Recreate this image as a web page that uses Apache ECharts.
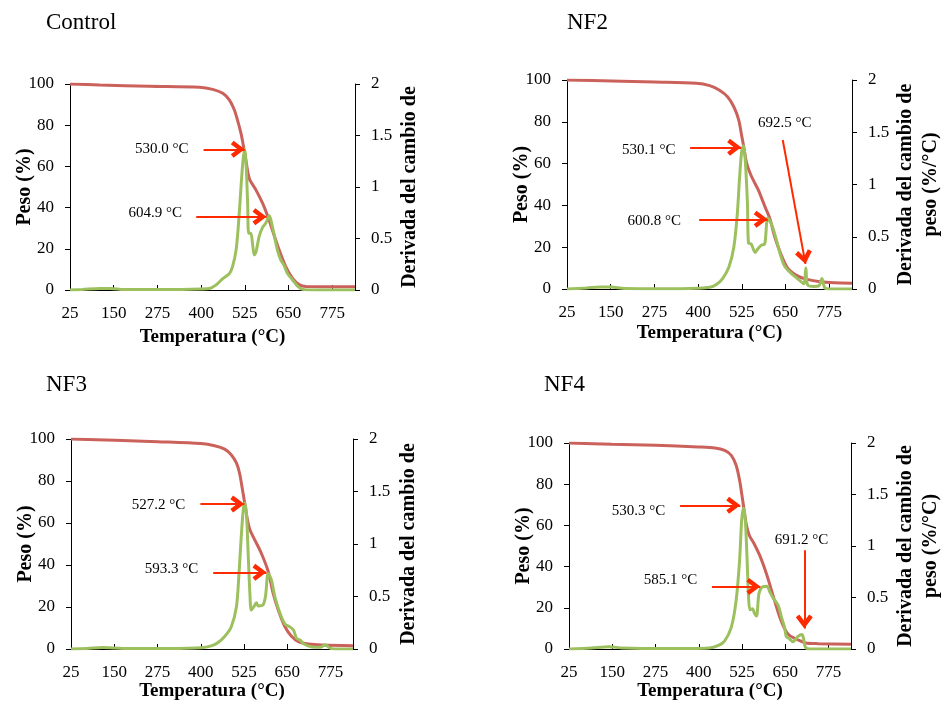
<!DOCTYPE html>
<html>
<head>
<meta charset="utf-8">
<script src="https://cdn.jsdelivr.net/npm/echarts@6/dist/echarts.min.js"></script>
<style>
  html, body { margin: 0; padding: 0; background: #fff; }
  #main { width: 944px; height: 706px; }
</style>
</head>
<body>
<div id="main"></div>
<script>
// ---- data ----
var panelNames = ['Control', 'NF2', 'NF3', 'NF4'];
var xTicks = [25, 150, 275, 400, 525, 650, 775];

// weight (%) vs temperature
var ctrlWT = [25, 110, 253, 395, 433, 462, 481, 495, 504, 514, 523, 528, 538, 557, 576, 590, 604, 623, 642, 661, 680, 700, 840];
var ctrlW  = [100, 99.5, 98.9, 98.4, 97.4, 95.5, 92.2, 87.4, 82.5, 76, 68, 63, 54, 48.5, 42, 36, 29, 19.5, 11.3, 5.7, 2.6, 1.7, 1.6];
var nf2WT = [25, 153, 275, 395, 433, 460, 484, 502, 516, 525, 530, 539, 553, 572, 591, 605, 619, 636, 656, 684, 712, 749, 790, 840];
var nf2W  = [100, 99.5, 99, 98.4, 97.3, 95.2, 92, 87.2, 80.9, 72.9, 68.4, 60, 53.7, 47.4, 39.4, 33.8, 25, 17, 10, 6.3, 4.6, 3.5, 3, 2.8];
var nf3WT = [25, 153, 275, 401, 440, 469, 488, 503, 512, 519, 527, 535, 542, 556, 575, 595, 609, 624, 643, 663, 682, 711, 750, 840];
var nf3W  = [100, 99.4, 98.7, 97.8, 96.8, 95.2, 92.5, 88.6, 83.8, 77.4, 69.5, 61.5, 56.8, 52, 45.6, 36.9, 26.6, 18.6, 10.7, 5.9, 3.5, 2.4, 1.9, 1.6];
var nf4WT = [25, 148, 275, 398, 447, 475, 494, 508, 518, 527, 530, 537, 546, 560, 578, 597, 616, 634, 648, 662, 690, 709, 746, 840];
var nf4W  = [100, 99.4, 98.9, 98.1, 97.6, 96.4, 94, 89.2, 81.9, 72.2, 68.6, 60.8, 55.2, 51.1, 44.7, 35.8, 25.2, 15.5, 9.9, 6.6, 4.2, 2.9, 2.6, 2.3];

// derivative (%/°C) vs temperature
var ctrlDT = [25, 60, 110, 140, 180, 300, 400, 424, 443, 462, 481, 490, 500, 507, 514, 519, 524, 528, 533, 536, 542, 547, 552, 557, 566, 576, 585, 595, 604, 618, 628, 637, 647, 661, 675, 690, 720, 840];
var ctrlD  = [0, 0.005, 0.015, 0.015, 0.005, 0.005, 0.01, 0.015, 0.05, 0.11, 0.16, 0.23, 0.39, 0.65, 1.0, 1.23, 1.366, 1.26, 0.84, 0.55, 0.55, 0.45, 0.34, 0.37, 0.52, 0.61, 0.65, 0.72, 0.61, 0.39, 0.29, 0.24, 0.16, 0.1, 0.04, 0.006, 0, 0];
var nf2DT = [25, 80, 120, 150, 190, 300, 400, 433, 451, 470, 488, 502, 512, 518, 524, 529, 534, 541, 544, 552, 563, 570, 581, 590, 593, 599, 611, 623, 635, 647, 666, 684, 702, 708, 713, 731, 745, 754, 762, 775, 840];
var nf2D  = [0, 0.01, 0.02, 0.02, 0.005, 0.003, 0.008, 0.016, 0.04, 0.1, 0.21, 0.4, 0.72, 1.04, 1.3, 1.37, 1.27, 0.82, 0.44, 0.43, 0.35, 0.38, 0.42, 0.43, 0.5, 0.68, 0.61, 0.48, 0.33, 0.22, 0.15, 0.1, 0.05, 0.2, 0.04, 0.025, 0.03, 0.1, 0.01, 0, 0];
var nf3DT = [25, 70, 115, 150, 200, 300, 401, 430, 449, 469, 488, 503, 510, 517, 523, 527, 532, 537, 542, 546, 553, 561, 566, 580, 587, 595, 604, 614, 629, 643, 658, 668, 677, 687, 697, 721, 745, 760, 775, 799, 840];
var nf3D  = [0, 0.004, 0.015, 0.01, 0.004, 0.005, 0.013, 0.03, 0.06, 0.12, 0.21, 0.4, 0.69, 1.07, 1.33, 1.39, 1.29, 0.91, 0.53, 0.37, 0.4, 0.44, 0.41, 0.42, 0.5, 0.72, 0.66, 0.5, 0.34, 0.24, 0.21, 0.18, 0.1, 0.086, 0.05, 0.02, 0.016, 0.04, 0.006, 0, 0];
var nf4DT = [25, 90, 140, 180, 300, 429, 457, 475, 494, 508, 518, 524, 529, 534, 539, 544, 548, 555, 562, 567, 574, 583, 597, 606, 616, 630, 639, 648, 653, 662, 672, 686, 698, 703, 708, 720, 840];
var nf4D  = [0, 0.01, 0.022, 0.01, 0.004, 0.01, 0.035, 0.08, 0.21, 0.47, 0.86, 1.25, 1.37, 1.28, 0.93, 0.5, 0.38, 0.39, 0.34, 0.32, 0.54, 0.6, 0.61, 0.55, 0.49, 0.42, 0.31, 0.21, 0.12, 0.1, 0.07, 0.12, 0.14, 0.1, 0.02, 0, 0];

// peak annotations: arrow start, arrow tip, label text and label anchor (T, %/°C)
var ctrlNotes = [
  { text: '530.0 °C', from: [407, 1.366], to: [525, 1.366], at: [364, 1.37], pos: 'left' },
  { text: '604.9 °C', from: [386, 0.712], to: [587, 0.712], at: [345, 0.75], pos: 'left' }
];
var nf2Notes = [
  { text: '530.1 °C', from: [377, 1.356], to: [523, 1.356], at: [335, 1.33], pos: 'left' },
  { text: '600.8 °C', from: [403, 0.667], to: [599, 0.667], at: [351, 0.654], pos: 'left' },
  { text: '692.5 °C', from: [642, 1.426], to: [707, 0.24], at: [648, 1.585], pos: 'inside' }
];
var nf3Notes = [
  { text: '527.2 °C', from: [399, 1.38], to: [526, 1.38], at: [355, 1.374], pos: 'left' },
  { text: '593.3 °C', from: [436, 0.73], to: [590, 0.73], at: [393, 0.76], pos: 'left' }
];
var nf4Notes = [
  { text: '530.3 °C', from: [346, 1.395], to: [520, 1.395], at: [303, 1.34], pos: 'left' },
  { text: '585.1 °C', from: [438, 0.608], to: [578, 0.608], at: [396, 0.67], pos: 'left' },
  { text: '691.2 °C', from: [705, 0.958], to: [705, 0.2], at: [697, 1.06], pos: 'inside' }
];

var weights = [[ctrlWT, ctrlW], [nf2WT, nf2W], [nf3WT, nf3W], [nf4WT, nf4W]];
var derivs = [[ctrlDT, ctrlD], [nf2DT, nf2D], [nf3DT, nf3D], [nf4DT, nf4D]];
var notes = [ctrlNotes, nf2Notes, nf3Notes, nf4Notes];
var rightNames = ['Derivada del cambio de', 'Derivada del cambio de\npeso (%/°C)',
                  'Derivada del cambio de', 'Derivada del cambio de\npeso (%/°C)'];

// ---- layout ----
var grids = [
  { left: 70, top: 84, width: 285, height: 206 },
  { left: 567, top: 80, width: 294, height: 209 },
  { left: 71, top: 439, width: 282, height: 210 },
  { left: 569, top: 443, width: 291, height: 206 }
];
var titlePos = [[46, 11], [567, 11], [46, 373], [544, 373]];
var rightGap = [42, 41, 43, 42];
var bottomGap = [38, 35, 33, 33];

var FONT = 'Liberation Serif';
var RED = '#CB615B', GREEN = '#9DC05F', ARROW = '#FF2A00';
// open arrow head pointing up; apex sits at the centre of the box (tiny speck above balances it)
var chevron = 'path://M5,0 L5.02,0 L5,0.02 Z M5,9.2 L10,16.6 L7.9,18.4 L5,14 L2.1,18.4 L0,16.6 Z';

function zip(a, b) {
  return a.map(function (v, i) { return [v, b[i]]; });
}

var xAxes = [], yAxes = [], series = [], titles = [];
for (var i = 0; i < 4; i++) {
  titles.push({
    text: panelNames[i], left: titlePos[i][0], top: titlePos[i][1], padding: 0,
    textStyle: { fontFamily: FONT, fontSize: 23, fontWeight: 'normal', color: '#000' }
  });
  xAxes.push({
    type: 'value', gridIndex: i, min: 25, max: 840,
    name: 'Temperatura (°C)', nameLocation: 'middle', nameGap: bottomGap[i], nameMoveOverlap: false,
    nameTextStyle: { fontFamily: FONT, fontSize: 19, fontWeight: 'bold', color: '#000' },
    axisLine: { onZero: false, lineStyle: { color: '#000', width: 1 } },
    axisTick: { inside: true, length: 5, customValues: xTicks, lineStyle: { color: '#000' } },
    axisLabel: { customValues: xTicks, margin: 15, fontFamily: FONT, fontSize: 17, color: '#000' },
    splitLine: { show: false }
  });
  yAxes.push({
    type: 'value', gridIndex: i, min: 0, max: 100, interval: 20,
    name: 'Peso (%)', nameLocation: 'middle', nameGap: 35, nameMoveOverlap: false,
    nameTextStyle: { fontFamily: FONT, fontSize: 20, fontWeight: 'bold', color: '#000' },
    axisLine: { show: true, lineStyle: { color: '#000', width: 1 } },
    axisTick: { show: true, length: 5, lineStyle: { color: '#000' } },
    axisLabel: { margin: 16, fontFamily: FONT, fontSize: 17, color: '#000' },
    splitLine: { show: false }
  });
  yAxes.push({
    type: 'value', gridIndex: i, position: 'right', min: 0, max: 2, interval: 0.5,
    name: rightNames[i], nameLocation: 'middle', nameGap: rightGap[i], nameMoveOverlap: false,
    nameTextStyle: { fontFamily: FONT, fontSize: 20, fontWeight: 'bold', color: '#000', lineHeight: 25 },
    axisLine: { show: true, lineStyle: { color: '#000', width: 1 } },
    axisTick: { show: true, length: 5, lineStyle: { color: '#000' } },
    axisLabel: { margin: 16, fontFamily: FONT, fontSize: 17, color: '#000' },
    splitLine: { show: false }
  });

  series.push({
    type: 'line', xAxisIndex: i, yAxisIndex: 2 * i,
    data: zip(weights[i][0], weights[i][1]),
    showSymbol: false, smooth: 0.3, silent: true,
    lineStyle: { color: RED, width: 3 }
  });
  series.push({
    type: 'line', xAxisIndex: i, yAxisIndex: 2 * i + 1,
    data: zip(derivs[i][0], derivs[i][1]),
    showSymbol: false, smooth: 0.3, silent: true,
    lineStyle: { color: GREEN, width: 3 },
    markLine: {
      silent: true, animation: false,
      symbol: ['none', chevron], symbolSize: [17, 28],
      lineStyle: { color: ARROW, width: 2, type: 'solid' },
      itemStyle: { color: ARROW },
      label: { show: false },
      data: notes[i].map(function (n) {
        return [{ coord: n.from }, { coord: n.to }];
      })
    },
    markPoint: {
      silent: true, animation: false, symbol: 'circle', symbolSize: 0,
      itemStyle: { color: 'transparent' },
      data: notes[i].map(function (n) {
        return {
          coord: n.at, value: n.text,
          label: {
            show: true, position: n.pos, distance: 0, formatter: n.text,
            fontFamily: FONT, fontSize: 15, color: '#000'
          }
        };
      })
    }
  });
}

var chart = echarts.init(document.getElementById('main'));
chart.setOption({
  backgroundColor: '#fff',
  animation: false,
  title: titles,
  grid: grids,
  xAxis: xAxes,
  yAxis: yAxes,
  series: series
});
</script>
</body>
</html>
